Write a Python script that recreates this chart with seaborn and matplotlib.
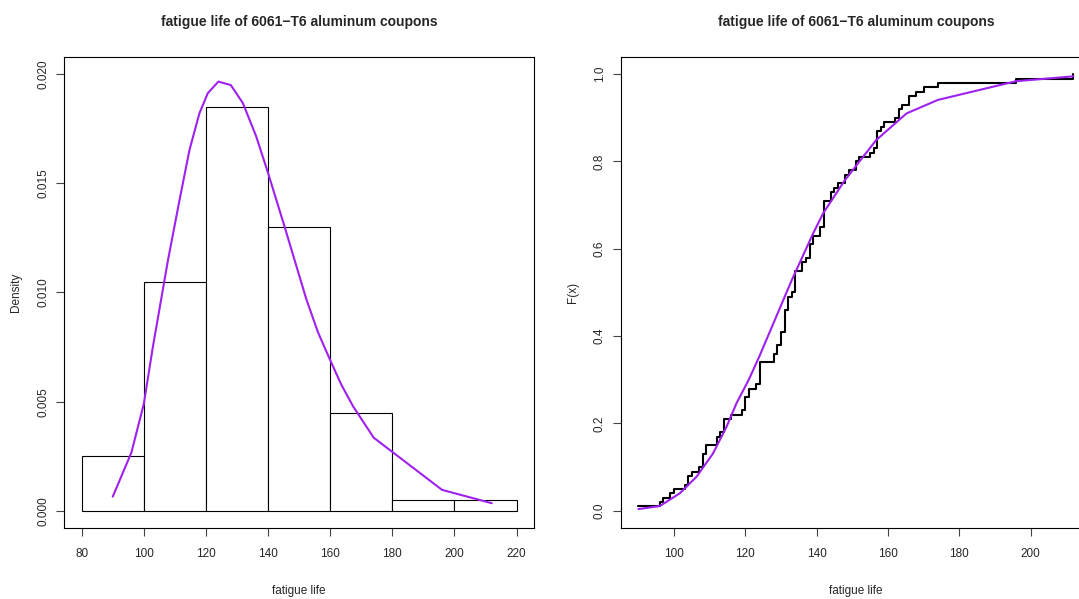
import numpy as np
import pandas as pd
import seaborn as sns
import matplotlib.pyplot as plt
from matplotlib.ticker import FormatStrFormatter

# fatigue life (thousands of cycles) of 100 coupons
life = [90, 96, 97, 99, 100, 103, 104, 104, 105, 107, 108, 108, 108, 109, 109,
        112, 112, 113, 114, 114, 114, 116, 119, 120, 120, 120, 121, 121, 123,
        124, 124, 124, 124, 124, 128, 128, 129, 129, 130, 130, 130, 131, 131,
        131, 131, 131, 132, 132, 132, 133, 134, 134, 134, 134, 134, 136, 136,
        137, 138, 138, 138, 139, 139, 141, 141, 142, 142, 142, 142, 142, 142,
        144, 144, 145, 146, 148, 148, 149, 151, 151, 152, 155, 156, 157, 157,
        157, 157, 158, 159, 162, 163, 163, 164, 166, 166, 168, 170, 174, 196, 212]
bin_edges = [80, 100, 120, 140, 160, 180, 200, 220]

# fitted density curve
fit_x = [90, 96, 100, 102.9, 107.8, 111.5, 114.7, 117.9, 120.6, 124, 128,
         131.9, 136.2, 140, 145.3, 148.5, 152.3, 156, 160, 163.5, 167.3, 174,
         196, 212]
fit_dens = [0.00065, 0.00267, 0.0049, 0.0075, 0.0115, 0.01424, 0.01653,
            0.01821, 0.01913, 0.01966, 0.0195, 0.01867, 0.01714, 0.01547,
            0.01302, 0.0115, 0.0097, 0.0082, 0.0069, 0.0058, 0.0048, 0.00335,
            0.00096, 0.00035]

# fitted cdf curve
cdf_x = [90, 96, 101.6, 106.3, 110.9, 114.7, 117.5, 121, 124, 133, 139,
         141.8, 147.9, 156.7, 165.2, 174, 196, 212]
cdf_F = [0.004, 0.011, 0.040, 0.078, 0.131, 0.192, 0.246, 0.301, 0.355,
         0.528, 0.635, 0.681, 0.757, 0.849, 0.910, 0.941, 0.984, 0.995]

title = "fatigue life of 6061\u2212T6 aluminum coupons"
purple = "#A020F0"

sns.set_theme(style="white")
plt.rcParams['font.family'] = ['Liberation Sans', 'DejaVu Sans']
plt.rcParams['font.size'] = 8.5
plt.rcParams['axes.edgecolor'] = 'black'
plt.rcParams['axes.linewidth'] = 0.8

fig = plt.figure(figsize=(10.79, 5.99), dpi=100)
ax1 = fig.add_axes([64.3 / 1079, 1 - 528.3 / 599, 469.7 / 1079, 471.6 / 599])
ax2 = fig.add_axes([621 / 1079, 1 - 528.3 / 599, 469.7 / 1079, 471.6 / 599])

# histogram with right-closed bins like R's hist()
counts = pd.cut(pd.Series(life), bin_edges, right=True).value_counts(sort=False).values
dens = counts / (len(life) * np.diff(bin_edges))
sns.histplot(x=bin_edges[:-1], weights=dens, bins=bin_edges, stat='count',
             color='white', edgecolor='black', linewidth=0.8, alpha=1, ax=ax1)
sns.lineplot(x=fit_x, y=fit_dens, color=purple, linewidth=1.5, sort=False,
             estimator=None, ax=ax1)

ax1.set_xlim(74.4, 225.6)
ax1.set_ylim(-0.0008, 0.0208)
ax1.set_xticks(bin_edges)
ax1.set_yticks([0, 0.005, 0.01, 0.015, 0.02])
ax1.yaxis.set_major_formatter(FormatStrFormatter('%.3f'))
ax1.set_xlabel("fatigue life")
ax1.set_ylabel("Density")

# empirical cdf as a step line
xs = sorted(life)
Fn = np.arange(1, len(xs) + 1) / len(xs)
sns.lineplot(x=xs, y=Fn, drawstyle='steps-post', color='black', linewidth=1.5,
             sort=False, estimator=None, ax=ax2)
sns.lineplot(x=cdf_x, y=cdf_F, color=purple, linewidth=1.5, sort=False,
             estimator=None, ax=ax2)

ax2.set_xlim(85.12, 216.88)
ax2.set_ylim(-0.04, 1.04)
ax2.set_xticks([100, 120, 140, 160, 180, 200])
ax2.set_yticks([0, 0.2, 0.4, 0.6, 0.8, 1.0])
ax2.yaxis.set_major_formatter(FormatStrFormatter('%.1f'))
ax2.set_xlabel("fatigue life")
ax2.set_ylabel("F(x)")

for ax in (ax1, ax2):
    ax.set_title(title, fontsize=10, fontweight='bold', pad=22)
    ax.tick_params(axis='both', direction='out', length=6, width=0.8,
                   color='#444444', labelsize=8.5, left=True, bottom=True)
    ax.tick_params(axis='x', pad=8)
    ax.tick_params(axis='y', pad=5)
    for lab in ax.get_yticklabels():
        lab.set_rotation(90)
        lab.set_va('center')
    ax.xaxis.set_label_coords(0.5, -0.12)
    ax.yaxis.set_label_coords(-0.09, 0.5)
    ax.xaxis.label.set_size(8.5)
    ax.yaxis.label.set_size(8.5)
    for s in ax.spines.values():
        s.set_visible(True)
        s.set_color('black')

fig.savefig("out.png", dpi=100)
